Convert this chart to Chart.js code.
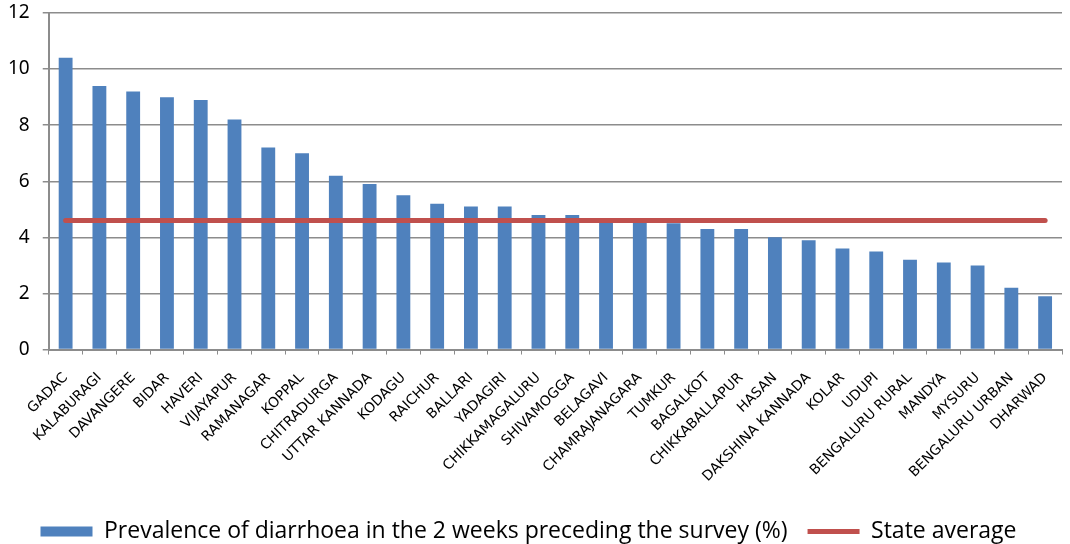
<!DOCTYPE html>
<html>
<head>
<meta charset="utf-8">
<script src="https://cdn.jsdelivr.net/npm/chart.js@4"></script>
<style>
  html, body { margin: 0; padding: 0; background: #fff; }
  #wrap { width: 1070px; height: 544px; }
</style>
</head>
<body>
<div id="wrap"><canvas id="chart"></canvas></div>
<script>
const districts = [
    "GADAC", "KALABURAGI", "DAVANGERE", "BIDAR", "HAVERI", "VIJAYAPUR",
    "RAMANAGAR", "KOPPAL", "CHITRADURGA", "UTTAR KANNADA", "KODAGU", "RAICHUR",
    "BALLARI", "YADAGIRI", "CHIKKAMAGALURU", "SHIVAMOGGA", "BELAGAVI",
    "CHAMRAJANAGARA", "TUMKUR", "BAGALKOT", "CHIKKABALLAPUR", "HASAN",
    "DAKSHINA KANNADA", "KOLAR", "UDUPI", "BENGALURU RURAL", "MANDYA",
    "MYSURU", "BENGALURU URBAN", "DHARWAD"
];
const prevalence = [
    10.4, 9.4, 9.2, 9.0, 8.9, 8.2, 7.2, 7.0, 6.2, 5.9, 5.5, 5.2,
    5.1, 5.1, 4.8, 4.8, 4.6, 4.6, 4.5, 4.3, 4.3, 4.0,
    3.9, 3.6, 3.5, 3.2, 3.1, 3.0, 2.2, 1.9
];
const stateAverage = districts.map(() => 4.6);

const blue = '#4F81BD';
const red = '#C0504D';
const gridGray = '#8c8c8c';

function draw() {
    const ctx = document.getElementById('chart').getContext('2d');
    new Chart(ctx, {
        type: 'bar',
        data: {
            labels: districts,
            datasets: [
                {
                    label: 'Prevalence of diarrhoea in the 2 weeks preceding the survey (%)',
                    data: prevalence,
                    backgroundColor: blue,
                    borderColor: blue,
                    borderWidth: 0,
                    categoryPercentage: 0.82,
                    barPercentage: 0.5,
                    pointStyle: 'rect',
                    order: 1
                },
                {
                    type: 'line',
                    label: 'State average',
                    data: stateAverage,
                    borderColor: red,
                    backgroundColor: red,
                    borderWidth: 5,
                    borderCapStyle: 'round',
                    pointRadius: 0,
                    pointHoverRadius: 0,
                    pointBorderWidth: 5,
                    pointBorderColor: red,
                    pointStyle: 'line',
                    order: 0
                }
            ]
        },
        options: {
            responsive: true,
            maintainAspectRatio: false,
            animation: false,
            layout: { padding: { left: -5, right: 8, top: 13, bottom: -9 } },
            plugins: {
                tooltip: { enabled: false },
                legend: {
                    position: 'bottom',
                    labels: {
                        usePointStyle: true,
                        pointStyleWidth: 52,
                        boxHeight: 10,
                        padding: 20,
                        color: '#000',
                        font: { family: 'Open Sans', size: 23 },
                        sort: (a, b) => a.datasetIndex - b.datasetIndex
                    }
                }
            },
            scales: {
                x: {
                    offset: true,
                    afterFit: s => { s.paddingLeft = 0; s.paddingRight = 0; },
                    grid: {
                        offset: true,
                        drawOnChartArea: false,
                        color: gridGray,
                        tickLength: 5
                    },
                    border: { color: gridGray, width: 2 },
                    ticks: {
                        minRotation: 45,
                        maxRotation: 45,
                        autoSkip: false,
                        color: '#000',
                        padding: 15,
                        font: { family: 'DejaVu Sans', size: 14 }
                    }
                },
                y: {
                    min: 0,
                    max: 12,
                    afterFit: s => { s.paddingTop = 0; s.paddingBottom = 0; },
                    ticks: {
                        stepSize: 2,
                        color: '#000',
                        padding: 13,
                        font: { family: 'Noto Sans', size: 19 }
                    },
                    grid: { color: gridGray, lineWidth: 1.5, tickLength: 6 },
                    border: { color: gridGray, width: 2 }
                }
            }
        }
    });
}

Promise.all([
    document.fonts.load('23px "Open Sans"'),
    document.fonts.load('14px "DejaVu Sans"'),
    document.fonts.load('19px "Noto Sans"')
]).then(draw, draw);
</script>
</body>
</html>
